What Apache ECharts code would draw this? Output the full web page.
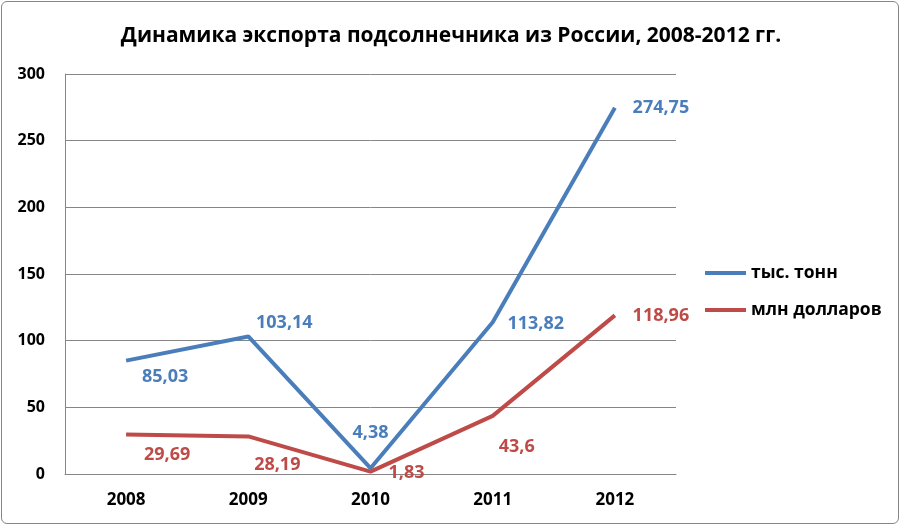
<!DOCTYPE html>
<html><head><meta charset="utf-8">
<script src="https://cdn.jsdelivr.net/npm/echarts@6/dist/echarts.min.js"></script>
<style>
html,body{margin:0;padding:0;background:#fff;}
#wrap{position:absolute;left:1px;top:1px;width:898px;height:523px;border:1px solid #868686;border-radius:6px;box-sizing:border-box;overflow:hidden;}
#c{width:898px;height:523px;position:absolute;left:-1px;top:-1px;}
</style></head>
<body><div id="wrap"><div id="c"></div></div>
<script>
var categories = ['2008','2009','2010','2011','2012'];
var tonnes = [85.03, 103.14, 4.38, 113.82, 274.75];
var dollars = [29.69, 28.19, 1.83, 43.6, 118.96];
var seriesNames = ['тыс. тонн','млн долларов'];

var tonOffsets = [[39,16],[36,-14],[0,-35],[43,2],[46,0]];
var dolOffsets = [[41,20],[29,28],[36,1],[24,31],[46,0]];
var FONT = '"Open Sans", "DejaVu Sans", sans-serif';
function fmt(v){ return String(v).replace('.', ','); }
function build(vals, offs){
  return vals.map(function(v,i){
    return {value:v, label:{offset:offs[i]}};
  });
}
var chart = echarts.init(document.getElementById('c'));
chart.setOption({
  animation:false,
  title:{text:'Динамика экспорта подсолнечника из России, 2008-2012 гг.', left:445, top:20, textAlign:'center',
    textStyle:{fontFamily:FONT, fontWeight:'bold', fontSize:21, color:'#000'}},
  legend:{orient:'vertical', left:699, top:258, itemWidth:41, itemHeight:4, itemGap:19,
    icon:'rect',
    textStyle:{fontFamily:FONT, fontWeight:'bold', fontSize:17.5, color:'#000'},
    data:seriesNames},
  grid:{left:64, top:73, width:611, height:400, containLabel:false},
  xAxis:{type:'category', data:categories, boundaryGap:true,
    axisLine:{lineStyle:{color:'#868686', width:1}}, axisTick:{show:false},
    axisLabel:{fontFamily:FONT, fontWeight:'bold', fontSize:17, color:'#000', margin:18}},
  yAxis:{type:'value', min:0, max:300, interval:50,
    axisLine:{show:true, lineStyle:{color:'#868686'}}, axisTick:{show:false},
    splitLine:{lineStyle:{color:'#868686'}},
    axisLabel:{fontFamily:FONT, fontWeight:'bold', fontSize:16, color:'#000', margin:20}},
  series:[
    {name:seriesNames[0], type:'line', data:build(tonnes, tonOffsets), symbol:'circle', symbolSize:0.1,
      lineStyle:{color:'#4A7EBB', width:4}, itemStyle:{color:'#4A7EBB'},
      label:{show:true, position:'inside', color:'#4A7EBB', fontFamily:FONT, fontWeight:'bold', fontSize:18,
        formatter:function(p){return fmt(p.value);}}},
    {name:seriesNames[1], type:'line', data:build(dollars, dolOffsets), symbol:'circle', symbolSize:0.1,
      lineStyle:{color:'#BE4B48', width:4}, itemStyle:{color:'#BE4B48'},
      label:{show:true, position:'inside', color:'#BE4B48', fontFamily:FONT, fontWeight:'bold', fontSize:18,
        formatter:function(p){return fmt(p.value);}}}
  ]
});
</script></body></html>
